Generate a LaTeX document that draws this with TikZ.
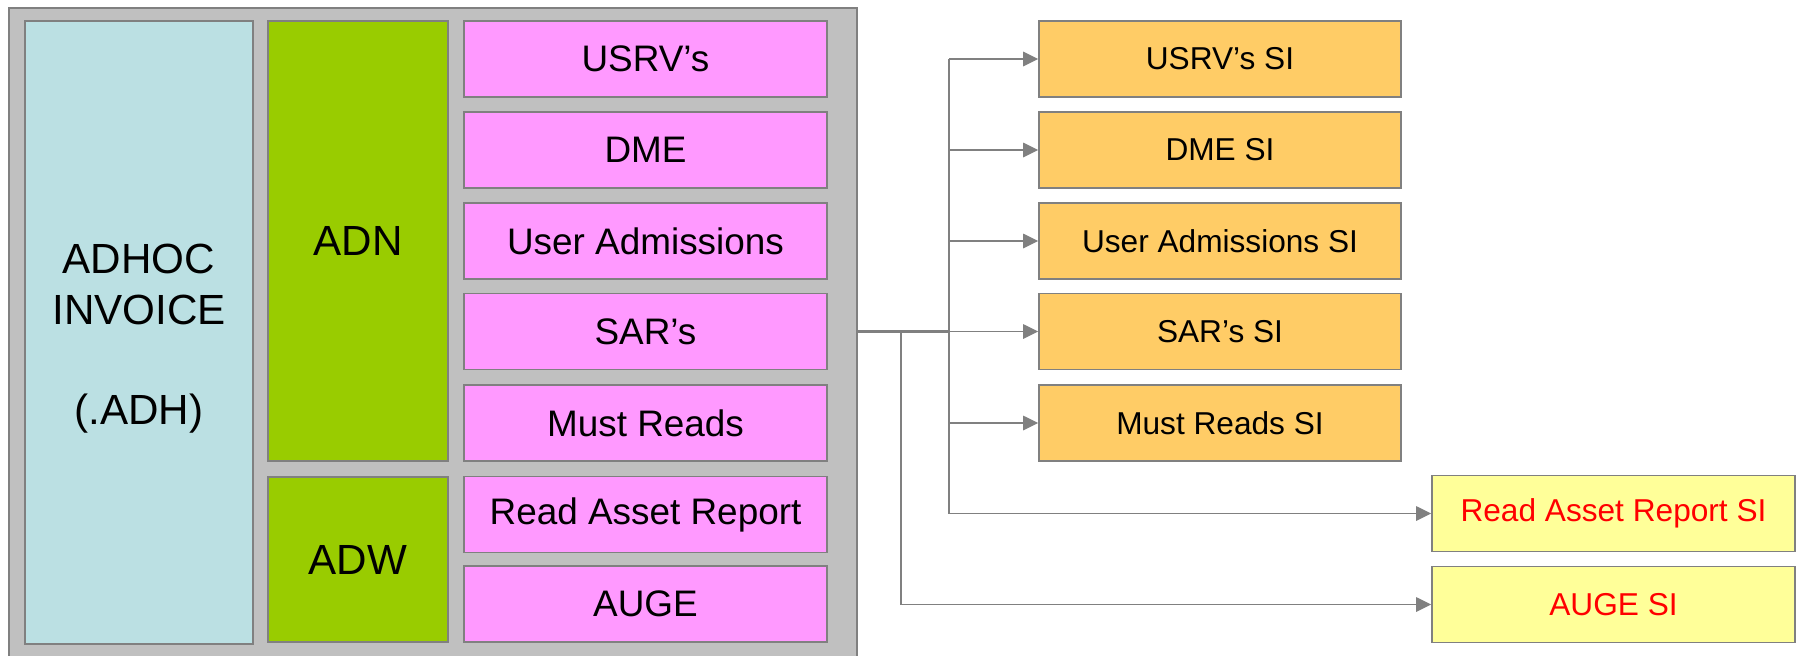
\documentclass[tikz,border=0pt]{standalone}
\usepackage{fontspec}
\setmainfont{Liberation Sans}
\usetikzlibrary{arrows.meta}
\definecolor{rahmen}{HTML}{808080}
\definecolor{grau}{HTML}{C0C0C0}
\definecolor{hellblau}{HTML}{BBE0E3}
\definecolor{gruen}{HTML}{99CC00}
\definecolor{rosa}{HTML}{FF99FF}
\definecolor{orangefarbe}{HTML}{FFCC66}
\definecolor{gelb}{HTML}{FFFF99}
\definecolor{rot}{HTML}{FF0000}

\begin{document}
\begin{tikzpicture}[every text node part/.style={align=center},
    box/.style={draw=rahmen, line width=1pt, inner sep=0pt},
    grossbox/.style={box, font=\fontsize{24}{29}\selectfont},
    rosabox/.style={box, fill=rosa, minimum width=7.26cm, minimum height=1.52cm,
        font=\fontsize{21}{25}\selectfont},
    sibox/.style={box, fill=orangefarbe, minimum width=7.24cm, minimum height=1.52cm,
        font=\fontsize{18}{22}\selectfont},
    neubox/.style={box, fill=gelb, minimum width=7.26cm, minimum height=1.52cm,
        text=rot, font=\fontsize{18}{22}\selectfont},
    conn/.style={draw=rahmen, line width=1pt},
    arr/.style={conn, line width=0.8pt, -{Triangle[length=3mm,width=2.9mm]}}]
\useasboundingbox (0,0) rectangle (35.94,-13.1);

%Rahmen
    \draw[draw=rahmen, fill=grau, line width=1pt] (0.18,-0.16) rectangle (17.14,-13.4);

%Dateien
    \node (adh) at (2.78,-6.65)
        [grossbox, fill=hellblau, minimum width=4.56cm, minimum height=12.46cm]
        {\rule{0pt}{24pt}ADHOC\\INVOICE\\[28pt](.ADH)};
    \node (adn) at (7.16,-4.82)
        [grossbox, fill=gruen, minimum width=3.6cm, minimum height=8.8cm]
        {ADN};
    \node (adw) at (7.16,-11.19)
        [grossbox, fill=gruen, minimum width=3.6cm, minimum height=3.3cm]
        {ADW};

%Berichte
    \foreach \n/\t/\y in {usrv/USRV’s/-1.18, dme/DME/-3.0, user/User Admissions/-4.82,
        sar/SAR’s/-6.63, must/Must Reads/-8.46}{
        \node (\n) at (12.91,\y)
            [rosabox]
            {\t};
        \node (\n-si) at (24.4,\y)
            [sibox]
            {\t\ SI};}
    \node (rar) at (12.91,-10.29)
        [rosabox]
        {Read Asset Report};
    \node (auge) at (12.91,-12.08)
        [rosabox]
        {AUGE};
    \node (rar-si) at (32.27,-10.27)
        [neubox]
        {Read Asset Report SI};
    \node (auge-si) at (32.27,-12.09)
        [neubox]
        {AUGE SI};

%Verbindungen
    \coordinate (aus) at (17.14,-6.63);
    \coordinate (ast1) at (18.98,-6.63);
    \coordinate (ast2) at (18.02,-6.63);
    \draw[conn, line width=1.2pt] (aus) -- (ast1);
    \draw[conn] (ast1 |- usrv-si) -- (ast1 |- rar-si);
    \draw[arr] (ast1 |- rar-si) -- (rar-si);
    \foreach \n in {usrv,dme,user,sar,must}{
        \draw[arr] (ast1 |- \n-si) -- (\n-si);}
    \draw[arr] (ast2) |- (auge-si);

\end{tikzpicture}
\end{document}
